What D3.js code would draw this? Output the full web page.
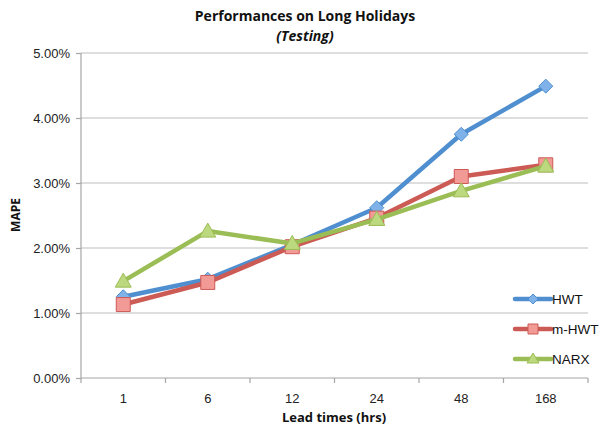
<!DOCTYPE html>
<html><head><meta charset="utf-8">
<script src="https://cdn.jsdelivr.net/npm/d3@7"></script>
<style>body{margin:0;background:#fff;}svg{display:block;font-family:"Open Sans","Liberation Sans",sans-serif;}</style>
</head><body><svg id="c" width="604" height="429"></svg>
<script>
const categories = ["1","6","12","24","48","168"];
const hwt  = [1.25, 1.52, 2.05, 2.62, 3.75, 4.49];
const mhwt = [1.13, 1.47, 2.02, 2.46, 3.10, 3.28];
const narx = [1.49, 2.26, 2.07, 2.44, 2.88, 3.26];
const yTicks = [0,1,2,3,4,5];
const series = [
  {name:"HWT", values:hwt, color:"#4f8fd0", fill:"#7fb2e8", marker:"diamond"},
  {name:"m-HWT", values:mhwt, color:"#cc5a55", fill:"#f29a96", marker:"square"},
  {name:"NARX", values:narx, color:"#9bbd55", fill:"#bdd97f", marker:"triangle"}
];
const svg = d3.select("#c");
const m = {l:81, r:588, t:53, b:378};
const x = d3.scaleBand().domain(categories).range([m.l, m.r]);
const y = d3.scaleLinear().domain([0,5]).range([m.b, m.t]);

svg.append("g").selectAll("line").data(yTicks.filter(d=>d>0)).join("line")
  .attr("x1", m.l).attr("x2", m.r).attr("y1", d=>y(d)).attr("y2", d=>y(d))
  .attr("stroke","#bdbdbd").attr("stroke-width",1.2);

const ya = svg.append("g").attr("transform",`translate(${m.l},0)`)
  .call(d3.axisLeft(y).tickValues(yTicks).tickFormat(d=>d.toFixed(2)+"%").tickSize(5).tickPadding(6));
ya.selectAll("path,line").attr("stroke","#a6a6a6").attr("stroke-width",1.2);
ya.select(".domain").attr("d",`M-0,${m.b}V${m.t}`);
ya.selectAll("text").attr("font-size",13).attr("fill","#222");

const xa = svg.append("g").attr("transform",`translate(0,${m.b})`)
  .call(d3.axisBottom(x).tickSize(0).tickPadding(16));
xa.select(".domain").attr("stroke","#a6a6a6").attr("stroke-width",1.2).attr("d",`M${m.l},0H${m.r}`);
xa.selectAll("text").attr("font-size",13).attr("fill","#222");
const bounds = categories.map(c=>x(c)).concat([m.r]);
xa.selectAll(".tb").data(bounds).join("line").attr("class","tb")
  .attr("x1",d=>d).attr("x2",d=>d).attr("y1",0).attr("y2",5)
  .attr("stroke","#a6a6a6").attr("stroke-width",1.2);

function marker(g, type, cx, cy, s, c, f){
  let path;
  if(type==="diamond") path = `M${cx},${cy-s}L${cx+s},${cy}L${cx},${cy+s}L${cx-s},${cy}Z`;
  else if(type==="square") path = `M${cx-s},${cy-s}h${2*s}v${2*s}h${-2*s}Z`;
  else path = `M${cx},${cy-s-1}L${cx+s+1},${cy+s-1}L${cx-s-1},${cy+s-1}Z`;
  g.append("path").attr("d",path).attr("fill",f).attr("stroke",c).attr("stroke-width",1);
}

const line = d3.line().x((d,i)=>x(categories[i])+x.bandwidth()/2).y(d=>y(d));
series.forEach(s=>{
  const g = svg.append("g");
  g.append("path").datum(s.values).attr("d",line).attr("fill","none")
    .attr("stroke",s.color).attr("stroke-width",4.5).attr("stroke-linejoin","round");
  s.values.forEach((v,i)=>marker(g, s.marker, x(categories[i])+x.bandwidth()/2, y(v), 7, s.color, s.fill));
});

const lg = svg.append("g");
series.forEach((s,i)=>{
  const ly = 299 + i*30;
  lg.append("line").attr("x1",515).attr("x2",551).attr("y1",ly).attr("y2",ly)
    .attr("stroke",s.color).attr("stroke-width",4.5).attr("stroke-linecap","round");
  marker(lg, s.marker, 533, ly, 5, s.color, s.fill);
  lg.append("text").attr("x",552).attr("y",ly+5).attr("font-size",13.5).attr("fill","#111")
    .attr("font-family","'Liberation Sans',Arial,sans-serif").text(s.name);
});

svg.append("text").attr("x",305).attr("y",21).attr("text-anchor","middle")
  .attr("font-size",14).attr("font-weight","bold").attr("fill","#111").text("Performances on Long Holidays");
svg.append("text").attr("x",305).attr("y",41).attr("text-anchor","middle")
  .attr("font-size",14).attr("font-weight","bold").attr("font-style","italic").attr("fill","#111").text("(Testing)");
svg.append("text").attr("transform","translate(20,215) rotate(-90)").attr("text-anchor","middle")
  .attr("font-size",12).attr("font-weight","bold").attr("fill","#111").text("MAPE");
svg.append("text").attr("x",334).attr("y",422).attr("text-anchor","middle")
  .attr("font-size",13).attr("font-weight","bold").attr("fill","#111").text("Lead times (hrs)");
</script></body></html>
